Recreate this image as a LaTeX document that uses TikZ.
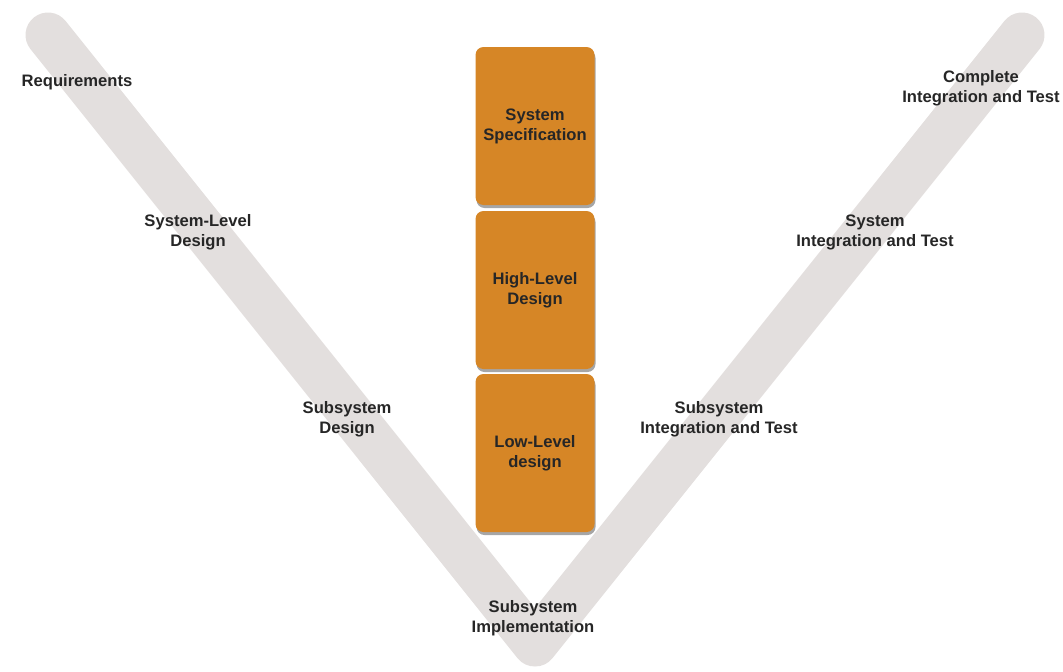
\documentclass[tikz,border=0pt]{standalone}
\usepackage{fontspec}
\setmainfont{Liberation Sans}
\usetikzlibrary{shadows}
\definecolor{vgris}{HTML}{E3DFDE}
\definecolor{orangebox}{HTML}{D68626}
\definecolor{texte}{HTML}{262626}
\begin{document}
\begin{tikzpicture}[x=1pt,y=-1pt]
\tikzstyle{etape} = [text=texte, font=\bfseries\fontsize{16.6}{20}\selectfont, align=center];
\tikzstyle{bloc} = [etape, fill=orangebox, rounded corners=8pt, minimum width=119pt, minimum height=158pt, drop shadow={shadow xshift=1pt, shadow yshift=-3pt, fill=black, opacity=0.35}];
\useasboundingbox (0,0) rectangle (1063,672);
% le V
\coordinate (hg) at (48,35);
\coordinate (bas) at (535,644);
\coordinate (hd) at (1022,35);
\draw[vgris, line width=45pt, line cap=round, line join=round] (hg) -- (bas) -- (hd);
% les blocs
\node[bloc] (spec) at (535,126) {System\\Specification};
\node[bloc] (hl) at (535,290) {High-Level\\Design};
\node[bloc] (ll) at (535,453) {Low-Level\\design};
% les etapes
\node[etape] (req) at (77,82) {Requirements};
\node[etape] (sld) at (198,232) {System-Level\\Design};
\node[etape] (ssd) at (347,419) {Subsystem\\Design};
\node[etape] (ssi) at (533,618) {Subsystem\\Implementation};
\node[etape] (ssit) at (719,419) {Subsystem\\Integration and Test};
\node[etape] (sit) at (875,232) {System\\Integration and Test};
\node[etape] (cit) at (981,88) {Complete\\Integration and Test};
\end{tikzpicture}
\end{document}
